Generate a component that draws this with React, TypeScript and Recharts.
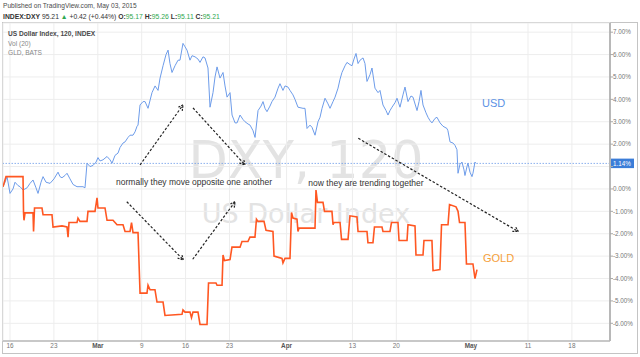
import {
  ComposedChart,
  Line,
  XAxis,
  YAxis,
  CartesianGrid,
  ReferenceLine,
  ReferenceDot,
} from "recharts";

const FONT = '"Liberation Sans", Arial, sans-serif';
const GREEN = "#2fa84f";

// x = trading-day position (Mon Feb 16 = 0, weekends skipped), y = % change
const TICK_DAYS = [0, 5, 10, 15, 20, 25, 31.5, 39, 44, 52.5, 59, 64];
const TICK_LABELS = ["16", "23", "Mar", "9", "16", "23", "Apr", "13", "20", "May", "11", "18"];
const MONTHS = ["Mar", "Apr", "May"];
const PCT_TICKS = [7, 6, 5, 4, 3, 2, 1, 0, -1, -2, -3, -4, -5, -6];
const LAST_PCT = 1.14;

// US Dollar Index, 120 min
const USD: [number, number][] = [
  [-0.8, 0.1], [-0.57, 0.3], [-0.34, 0.55], [0, -0.2], [0.34, 0.0], [0.57, 0.3], [0.91, 0.15],
  [1.14, 0.1], [1.48, -0.05], [1.94, 0.05], [2.28, 0.25], [2.62, 0.4], [2.96, 0.05], [3.19, -0.2],
  [3.53, 0.3], [3.76, 0.55], [4.1, 0.3], [4.56, 0.25], [5.01, 0.45], [5.47, 0.75], [5.69, 0.55],
  [5.92, 0.5], [6.26, 0.6], [6.49, 0.7], [6.83, 0.45], [7.18, 0.2], [7.63, 0.1], [7.97, 0.1],
  [8.31, 0.1], [8.54, 0.05], [8.77, 1.15], [9.11, 1.0], [9.45, 1.05], [9.8, 1.2], [10.02, 1.4],
  [10.25, 1.25], [10.59, 1.3], [11.05, 1.45], [11.39, 1.3], [11.62, 1.15], [11.96, 1.5], [12.3, 1.6],
  [12.53, 1.85], [12.87, 2.05], [13.1, 2.1], [13.44, 2.3], [13.67, 2.4], [14.01, 2.4], [14.24, 2.55],
  [14.47, 2.8], [14.58, 2.85], [14.81, 3.75], [15.15, 3.9], [15.38, 3.9], [15.72, 3.6], [16.17, 4.3],
  [16.52, 4.6], [16.86, 4.4], [17.09, 4.95], [17.43, 5.5], [17.77, 6.0], [18.0, 6.2], [18.22, 5.6],
  [18.45, 5.2], [18.79, 5.5], [19.14, 5.75], [19.36, 5.75], [19.7, 6.5], [19.93, 6.35], [20.16, 6.2],
  [20.5, 5.75], [20.73, 5.95], [21.07, 5.9], [21.41, 5.8], [21.64, 5.65], [21.98, 5.9], [22.21, 5.85],
  [22.55, 5.4], [22.78, 3.65], [23.12, 4.3], [23.35, 5.0], [23.58, 5.45], [23.92, 4.95], [24.26, 5.2],
  [24.49, 4.6], [24.72, 4.1], [25.06, 4.3], [25.29, 3.3], [25.63, 2.95], [25.86, 2.95], [26.2, 3.3],
  [26.54, 3.1], [26.77, 3.0], [27.11, 2.9], [27.34, 2.85], [27.68, 2.6], [27.91, 2.3], [28.25, 3.5],
  [28.59, 3.7], [28.82, 3.9], [29.04, 3.6], [29.27, 3.45], [29.61, 3.7], [29.84, 3.9], [30.18, 4.1],
  [30.53, 4.5], [30.75, 4.7], [31.09, 4.4], [31.32, 4.6], [31.66, 4.55], [31.89, 4.4], [32.23, 4.2],
  [32.46, 4.0], [32.8, 3.65], [33.37, 3.6], [33.6, 3.6], [33.83, 2.7], [34.17, 2.85], [34.4, 2.75],
  [34.74, 2.4], [35.08, 3.0], [35.31, 3.2], [35.54, 3.6], [35.88, 4.05], [36.22, 3.8], [36.45, 3.6],
  [36.79, 3.9], [37.02, 4.1], [37.36, 4.5], [37.59, 4.9], [37.81, 5.2], [38.16, 5.5], [38.38, 5.65],
  [38.73, 5.55], [38.95, 5.5], [39.18, 5.8], [39.41, 6.05], [39.64, 5.6], [39.87, 5.75], [40.21, 5.85],
  [40.43, 5.6], [40.66, 4.8], [41.0, 5.1], [41.23, 5.4], [41.57, 4.5], [41.92, 4.3], [42.14, 4.4],
  [42.48, 3.75], [42.83, 3.5], [43.05, 3.3], [43.28, 3.5], [43.51, 3.65], [43.85, 3.85], [44.08, 4.05],
  [44.42, 3.65], [44.76, 4.2], [44.99, 4.55], [45.33, 3.9], [45.67, 4.15], [45.9, 4.1], [46.36, 3.5],
  [46.59, 3.9], [46.81, 4.4], [47.04, 3.75], [47.38, 3.4], [47.61, 3.2], [47.84, 3.05], [48.06, 2.95],
  [48.41, 3.15], [48.63, 3.2], [48.98, 2.95], [49.32, 2.8], [49.77, 2.7], [49.88, 2.6], [50.12, 2.1],
  [50.46, 2.05], [50.68, 1.95], [50.91, 1.75], [51.03, 0.7], [51.25, 1.1], [51.48, 1.2], [51.71, 0.85],
  [51.82, 0.6], [52.05, 1.0], [52.16, 1.15], [52.39, 0.75], [52.62, 0.55], [52.73, 0.7], [52.96, 1.2],
  [53.08, 1.14],
];

// GLD, BATS (only trades in US hours, hence the steps)
const GLD: [number, number][] = [
  [-0.8, 0.1], [-0.46, 0.55], [1.48, 0.55], [1.54, -1.07], [1.59, -1.4], [1.71, -1.07], [2.62, -1.07],
  [2.68, -1.9], [2.79, -0.85], [3.64, -0.85], [3.76, -1.15], [4.78, -1.15], [4.9, -1.7], [5.92, -1.65],
  [6.49, -1.7], [6.61, -2.15], [6.72, -1.5], [7.63, -1.5], [7.74, -1.3], [7.97, -1.45], [8.77, -1.45],
  [8.88, -1.0], [9.68, -1.0], [9.91, -0.4], [10.02, -0.85], [10.82, -0.85], [11.05, -1.4], [11.73, -1.4],
  [11.96, -1.5], [12.19, -1.6], [12.87, -1.6], [13.1, -1.9], [13.67, -1.9], [13.84, -1.5], [14.01, -1.95],
  [14.58, -1.95], [14.81, -4.65], [15.6, -4.65], [15.72, -4.3], [15.95, -4.5], [16.51, -4.5],
  [16.74, -5.05], [17.43, -5.05], [17.65, -5.65], [19.59, -5.6], [19.7, -5.4], [19.93, -5.5],
  [20.5, -5.5], [20.67, -5.75], [20.84, -5.5], [21.41, -5.5], [21.64, -6.05], [22.44, -6.05],
  [22.61, -4.2], [23.46, -4.2], [23.58, -4.3], [24.15, -4.3], [24.26, -2.95], [24.43, -3.2],
  [25.06, -3.15], [25.28, -2.6], [26.2, -2.6], [26.42, -2.35], [27.1, -2.35], [27.33, -2.15],
  [27.9, -2.15], [28.07, -1.35], [28.25, -1.45], [28.93, -1.45], [29.16, -1.85], [29.95, -1.9],
  [30.07, -3.0], [30.98, -3.1], [31.09, -3.3], [31.32, -3.1], [31.89, -3.1], [32.06, -1.05],
  [32.23, -1.3], [32.69, -1.35], [32.8, -1.9], [32.92, -1.75], [34.74, -1.75], [34.85, -0.05],
  [35.02, -0.6], [35.65, -0.6], [35.82, -1.0], [36.67, -1.0], [36.79, -1.6], [36.9, -1.5],
  [37.59, -1.5], [37.76, -2.25], [38.5, -2.25], [38.72, -1.2], [39.52, -1.25], [39.64, -1.9],
  [40.66, -1.9], [40.77, -2.4], [41.34, -2.4], [41.51, -1.7], [42.37, -1.7], [42.48, -1.9],
  [43.28, -1.9], [43.45, -1.5], [44.19, -1.5], [44.31, -2.3], [45.22, -2.3], [45.33, -1.6],
  [46.13, -1.65], [46.24, -2.95], [47.04, -2.95], [47.15, -2.3], [48.06, -2.3], [48.18, -3.65],
  [48.97, -3.6], [49.15, -1.6], [49.89, -1.6], [50.06, -0.7], [50.8, -0.8], [51.03, -1.0],
  [51.2, -1.5], [51.82, -1.5], [51.99, -3.35], [52.73, -3.35], [52.96, -4.0], [53.19, -3.6],
];

// hand-drawn dashed arrows: [from, to] as [day, pct]
const ARROWS: [[number, number], [number, number]][] = [
  [[14.81, 1.07], [19.7, 3.75]],
  [[20.84, 3.62], [26.77, 1.07]],
  [[13.3, -0.57], [19.74, -3.17]],
  [[20.81, -3.14], [25.63, -0.57]],
  [[39.67, 2.26], [57.9, -1.9]],
];

const NOTES = [
  { day: 20.96, pct: 0.3, text: "normally they move opposite one another" },
  { day: 40.55, pct: 0.27, text: "now they are trending together" },
];

const SERIES_LABELS = [
  { day: 53.76, pct: 3.84, text: "USD", color: "#5b92e5" },
  { day: 53.87, pct: -3.08, text: "GOLD", color: "#f5a03a" },
];

const usdData = USD.map(([day, pct]) => ({ day, pct }));
const gldData = GLD.map(([day, pct]) => ({ day, pct }));

const XTick = ({ x, y, payload }: any) => {
  const label = TICK_LABELS[TICK_DAYS.indexOf(payload.value)];
  const month = MONTHS.includes(label);
  return (
    <text
      x={x}
      y={y + 4.6}
      textAnchor="middle"
      fontSize={6.4}
      fontFamily={FONT}
      fontWeight={month ? 700 : 400}
      fill={month ? "#555" : "#777"}
    >
      {label}
    </text>
  );
};

const YTick = ({ x, y, payload }: any) => {
  // the last-value badge hides the label right under it
  if (Math.abs(payload.value - LAST_PCT) < 0.3) return null;
  return (
    <text x={x} y={y + 2.2} fontSize={6.3} fontFamily={FONT} fill="#777">
      {payload.value.toFixed(2)}%
    </text>
  );
};

const Arrow = (p: any) => {
  const { x1, y1, x2, y2 } = p;
  const a = Math.atan2(y2 - y1, x2 - x1);
  const len = 6;
  const h1 = [x2 - len * Math.cos(a - 0.5), y2 - len * Math.sin(a - 0.5)];
  const h2 = [x2 - len * Math.cos(a + 0.5), y2 - len * Math.sin(a + 0.5)];
  return (
    <g stroke="#222" strokeWidth={1.2} fill="none">
      <line x1={x1} y1={y1} x2={x2} y2={y2} strokeDasharray="2.5 1.8" />
      <polyline points={`${h1} ${x2},${y2} ${h2}`} strokeDasharray="2 1" />
    </g>
  );
};

const LastValue = (p: any) => {
  const right = Math.max(p.x1, p.x2);
  return (
    <g>
      <line x1={p.x1} y1={p.y1} x2={p.x2} y2={p.y2} stroke="#6e9de8" strokeWidth={0.8} strokeDasharray="1.5 1.5" />
      <rect x={right} y={p.y1 - 4.8} width={24} height={9.5} fill="#3b7dd8" />
      <text x={right + 3} y={p.y1 + 2.3} fontSize={6.3} fontFamily={FONT} fill="#fff">
        {LAST_PCT.toFixed(2)}%
      </text>
    </g>
  );
};

export default function App() {
  return (
    <div style={{ position: "absolute", left: 0, top: 0, width: 640, height: 357, background: "#fff" }}>
      <svg width={640} height={357} style={{ position: "absolute", left: 0, top: 0 }} fontFamily={FONT}>
        <rect x={2.5} y={22.5} width={635} height={331} fill="#fff" stroke="#c4c4c4" />
        <text x={3} y={8} fontSize={6.6} fill="#4a4a4a">
          Published on TradingView.com, May 03, 2015
        </text>
        <text x={3} y={18.5} fontSize={6.8} fill="#333" style={{ whiteSpace: "pre" }}>
          <tspan fontWeight={700}>INDEX:DXY</tspan>
          <tspan> 95.21 </tspan>
          <tspan fill={GREEN}>▲</tspan>
          <tspan> +0.42 (+0.44%) </tspan>
          <tspan fontWeight={700}>O:</tspan>
          <tspan fill={GREEN}>95.17 </tspan>
          <tspan fontWeight={700}>H:</tspan>
          <tspan fill={GREEN}>95.26 </tspan>
          <tspan fontWeight={700}>L:</tspan>
          <tspan fill={GREEN}>95.11 </tspan>
          <tspan fontWeight={700}>C:</tspan>
          <tspan fill={GREEN}>95.21</tspan>
        </text>
        {/* watermark */}
        <text x={306} y={178} textAnchor="middle" fontSize={51} fill="#e3e3e3" fontFamily='"DejaVu Sans", sans-serif'>
          DXY, 120
        </text>
        <text x={306} y={223} textAnchor="middle" fontSize={27} fill="#e3e3e3" fontFamily='"DejaVu Sans", sans-serif'>
          US Dollar Index
        </text>
      </svg>
      <div style={{ position: "absolute", left: 0, top: 0 }}>
        <ComposedChart width={640} height={357} margin={{ top: 23, right: 3, bottom: 3, left: 3 }}>
          <CartesianGrid stroke="#ededed" />
          <XAxis
            type="number"
            dataKey="day"
            domain={[-0.8, 68.34]}
            allowDataOverflow
            ticks={TICK_DAYS}
            height={13}
            tickSize={2}
            tickMargin={0}
            tickLine={false}
            axisLine={{ stroke: "#b8b8b8", strokeWidth: 1.5 }}
            tick={<XTick />}
            interval={0}
          />
          <YAxis
            orientation="right"
            type="number"
            domain={[-6.79, 7.41]}
            allowDataOverflow
            ticks={PCT_TICKS}
            width={27}
            tickSize={3}
            tickMargin={0}
            tickLine={{ stroke: "#aaa" }}
            axisLine={{ stroke: "#b8b8b8", strokeWidth: 2 }}
            tick={<YTick />}
            interval={0}
          />
          <ReferenceLine y={LAST_PCT} shape={<LastValue />} />
          <Line
            data={usdData}
            dataKey="pct"
            type="linear"
            stroke="#6d9cea"
            strokeWidth={1}
            dot={false}
            isAnimationActive={false}
          />
          <Line
            data={gldData}
            dataKey="pct"
            type="linear"
            stroke="#ff5722"
            strokeWidth={1.6}
            dot={false}
            isAnimationActive={false}
          />
          {ARROWS.map(([from, to], i) => (
            <ReferenceLine
              key={i}
              segment={[
                { x: from[0], y: from[1] },
                { x: to[0], y: to[1] },
              ]}
              shape={<Arrow />}
            />
          ))}
          {NOTES.map((n) => (
            <ReferenceDot
              key={n.text}
              x={n.day}
              y={n.pct}
              r={0}
              shape={(p: any) => (
                <text x={p.cx} y={p.cy + 3} textAnchor="middle" fontSize={8.5} fontFamily={FONT} fill="#333">
                  {n.text}
                </text>
              )}
            />
          ))}
          {SERIES_LABELS.map((s) => (
            <ReferenceDot
              key={s.text}
              x={s.day}
              y={s.pct}
              r={0}
              shape={(p: any) => (
                <text x={p.cx} y={p.cy + 4} fontSize={11} fontFamily={FONT} fill={s.color}>
                  {s.text}
                </text>
              )}
            />
          ))}
        </ComposedChart>
      </div>
      <svg
        width={640}
        height={60}
        style={{ position: "absolute", left: 0, top: 0, pointerEvents: "none" }}
        fontFamily={FONT}
      >
        <text x={8} y={35.5} fontSize={6.6} fontWeight={700} fill="#4a4a4a">
          US Dollar Index, 120, INDEX
        </text>
        <text x={8} y={45.5} fontSize={6.6} fill="#888">
          Vol (20)
        </text>
        <text x={8} y={54.5} fontSize={6.6} fill="#888">
          GLD, BATS
        </text>
      </svg>
    </div>
  );
}
